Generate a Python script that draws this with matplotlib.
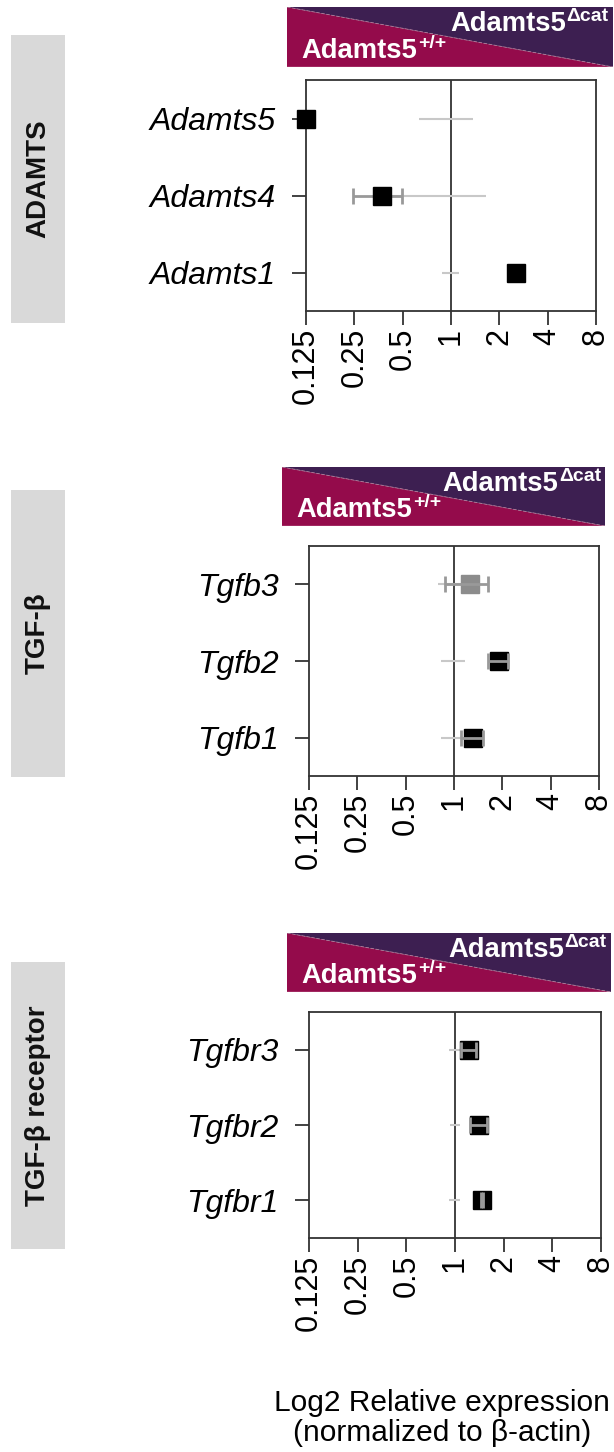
import matplotlib
matplotlib.use("Agg")
import matplotlib.pyplot as plt
from matplotlib.patches import Rectangle, Polygon

plt.rcParams['font.family'] = ['Liberation Sans', 'DejaVu Sans']

W, H = 614, 1452
DPI = 100

# ---------------- data ----------------
panel_titles = ['ADAMTS', 'TGF-β', 'TGF-β receptor']

genes_1 = ['Adamts5', 'Adamts4', 'Adamts1']
ko_mean_1 = [0.125, 0.37, 2.55]
ko_err_1 = [0.013, 0.125, 0.10]
wt_err_1 = [0.37, 0.65, 0.12]
ko_color_1 = ['black', 'black', 'black']

genes_2 = ['Tgfb3', 'Tgfb2', 'Tgfb1']
ko_mean_2 = [1.26, 1.90, 1.31]
ko_err_2 = [0.38, 0.26, 0.20]
wt_err_2 = [0.20, 0.17, 0.17]
ko_color_2 = ['#8c8c8c', 'black', 'black']

genes_3 = ['Tgfbr3', 'Tgfbr2', 'Tgfbr1']
ko_mean_3 = [1.22, 1.40, 1.47]
ko_err_3 = [0.13, 0.17, 0.02]
wt_err_3 = [0.08, 0.07, 0.08]
ko_color_3 = ['black', 'black', 'black']

tick_vals = [0.125, 0.25, 0.5, 1, 2, 4, 8]
tick_labels = ['0.125', '0.25', '0.5', '1', '2', '4', '8']

wt_label = 'Adamts5'
wt_sup = '+/+'
ko_label = 'Adamts5'
ko_sup = 'Δcat'
xlabel_text = 'Log2 Relative expression\n(normalized to β-actin)'

# ---------------- layout (pixels) ----------------
def fr(l, t, r, b):
    return [l / W, 1 - b / H, (r - l) / W, (b - t) / H]

axes_px = [(306, 80, 596, 311), (309, 546, 599, 776), (309, 1012, 601, 1238)]
banner_px = [(287, 7, 613, 67), (282, 467, 605, 526), (287, 933, 611, 992)]
side_px = [(11, 35, 65, 323), (11, 490, 65, 777), (11, 962, 65, 1249)]
err_on_top = [False, True, True]

MAGENTA = '#940B4B'
PURPLE = '#3D1F51'
SIDE_GRAY = '#d9d9d9'

fig = plt.figure(figsize=(W / DPI, H / DPI), dpi=DPI)

panels = [
    (genes_1, ko_mean_1, ko_err_1, wt_err_1, ko_color_1),
    (genes_2, ko_mean_2, ko_err_2, wt_err_2, ko_color_2),
    (genes_3, ko_mean_3, ko_err_3, wt_err_3, ko_color_3),
]

for i, (genes, km, ke, we, kc) in enumerate(panels):
    # side label box
    l, t, r, b = side_px[i]
    fig.patches.append(Rectangle((l / W, 1 - b / H), (r - l) / W, (b - t) / H,
                                 transform=fig.transFigure, facecolor=SIDE_GRAY,
                                 edgecolor='none', zorder=0))
    fig.text((l + r) / 2 / W, 1 - (t + b) / 2 / H, panel_titles[i], rotation=90,
             ha='center', va='center', fontsize=20, fontweight='bold', color='#111111')

    # banner
    bax = fig.add_axes(fr(*banner_px[i]))
    bax.set_xlim(0, 1)
    bax.set_ylim(0, 1)
    bax.axis('off')
    bax.add_patch(Polygon([[0, 0], [1, 0], [0, 1]], closed=True, facecolor=MAGENTA,
                          edgecolor='none'))
    bax.add_patch(Polygon([[0, 1], [1, 1], [1, 0]], closed=True, facecolor=PURPLE,
                          edgecolor='none'))
    bax.plot([0, 1], [1, 0], color='#b07a98', lw=0.6, ls=(0, (4, 2)))
    bax.plot([0, 1], [0, 0], color='#d8a8c0', lw=1.0)
    t1 = bax.text(0.855, 0.60, ko_label, ha='right', va='baseline', color='white',
                  fontsize=19.7, fontweight='bold')
    bax.annotate(ko_sup, xy=(1, 1), xycoords=t1, xytext=(0.5, 2.0),
                 textcoords='offset points', ha='left', va='top', color='white',
                 fontsize=14, fontweight='bold')
    t2 = bax.text(0.045, 0.15, wt_label, ha='left', va='baseline', color='white',
                  fontsize=19.7, fontweight='bold')
    bax.annotate(wt_sup, xy=(1, 1), xycoords=t2, xytext=(0.5, 2.0),
                 textcoords='offset points', ha='left', va='top', color='white',
                 fontsize=14, fontweight='bold')

    # main axes
    ax = fig.add_axes(fr(*axes_px[i]))
    ax.set_xscale('log', base=2)
    ax.set_xlim(0.125, 8)
    ax.set_ylim(0.5, 3.5)
    ys = [3, 2, 1]
    ax.axvline(1, color='#333333', lw=1.3, zorder=1)
    # WT error bars (around 1)
    ax.errorbar([1] * 3, ys, xerr=we, fmt='none', ecolor='#c8c8c8', elinewidth=1.5,
                capsize=0, zorder=2)
    ez = 5 if err_on_top[i] else 3
    ax.errorbar(km, ys, xerr=ke, fmt='none', ecolor='#999999', elinewidth=2.0,
                capsize=6, capthick=2.0, zorder=ez, clip_on=False)
    for x, y, c in zip(km, ys, kc):
        ax.plot([x], [y], marker='s', markersize=12.5, color=c, linestyle='none',
                zorder=4, clip_on=False)
    ax.set_xticks(tick_vals)
    ax.set_xticklabels(tick_labels, rotation=90, fontsize=22)
    ax.xaxis.set_minor_locator(matplotlib.ticker.NullLocator())
    ax.set_yticks(ys)
    ax.set_yticklabels(genes, fontsize=23, fontstyle='italic')
    ax.tick_params(axis='both', length=10, width=1.3, color='#333333', pad=2)
    ax.tick_params(axis='y', pad=12)
    for s in ax.spines.values():
        s.set_linewidth(1.3)
        s.set_color('#333333')

fig.text(442 / W, 1 - 1418 / H, xlabel_text, ha='center', va='center',
         fontsize=21.5, linespacing=1.05)

fig.savefig('out.png', dpi=DPI)
